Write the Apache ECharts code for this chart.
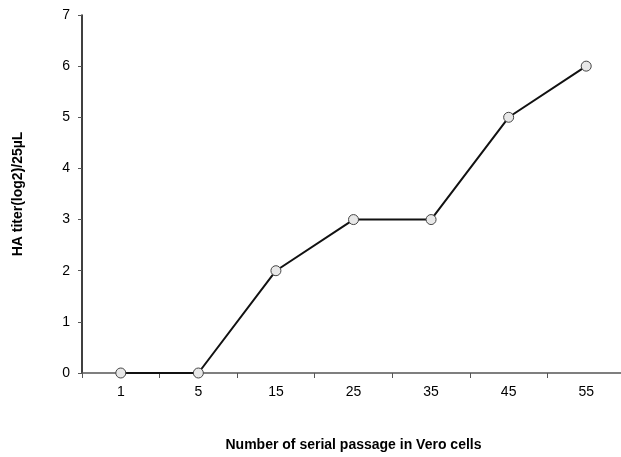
<!DOCTYPE html>
<html style="height: 100%">
<head>
    <meta charset="UTF-8">
    <title>HA titer vs serial passage</title>
    <script src="https://cdn.jsdelivr.net/npm/echarts@6/dist/echarts.min.js"></script>
    <style>
        html, body { margin: 0; padding: 0; background: #fff; }
        #chart { width: 621px; height: 457px; }
    </style>
</head>
<body>
    <div id="chart"></div>
    <script>
        // data
        var passages = ['1', '5', '15', '25', '35', '45', '55'];
        var haTiter = [0, 0, 2, 3, 3, 5, 6];
        var yTicks = [0, 1, 2, 3, 4, 5, 6, 7];

        var chart = echarts.init(document.getElementById('chart'));
        chart.setOption({
            animation: false,
            grid: { left: 82, right: -4, top: 15, bottom: 84, outerBoundsMode: 'none' },
            xAxis: {
                type: 'category',
                data: passages,
                boundaryGap: true,
                name: 'Number of serial passage in Vero cells',
                nameLocation: 'middle',
                nameGap: 65,
                nameTextStyle: { fontFamily: 'Liberation Sans', fontWeight: 'bold', fontSize: 14, color: '#000' },
                axisLine: { lineStyle: { color: '#555', width: 1.5 } },
                axisTick: { show: true, length: 5, alignWithLabel: false, lineStyle: { color: '#555' } },
                axisLabel: { fontFamily: 'Liberation Sans', fontSize: 14, color: '#000', margin: 12 }
            },
            yAxis: {
                type: 'value',
                min: yTicks[0],
                max: yTicks[yTicks.length - 1],
                interval: 1,
                name: 'HA titer(log2)/25µL',
                nameLocation: 'middle',
                nameRotate: 90,
                nameGap: 57,
                nameTextStyle: { fontFamily: 'Liberation Sans', fontWeight: 'bold', fontSize: 14, color: '#000' },
                axisLine: { show: true, lineStyle: { color: '#000', width: 1.5 } },
                axisTick: { show: true, length: 4, lineStyle: { color: '#555' } },
                splitLine: { show: false },
                axisLabel: { fontFamily: 'Liberation Sans', fontSize: 14, color: '#000', margin: 12 }
            },
            series: [{
                type: 'line',
                data: haTiter,
                symbol: 'circle',
                symbolSize: 10,
                lineStyle: { color: '#111', width: 2 },
                itemStyle: { color: '#e8e8e8', borderColor: '#444', borderWidth: 1 }
            }]
        });
    </script>
</body>
</html>
